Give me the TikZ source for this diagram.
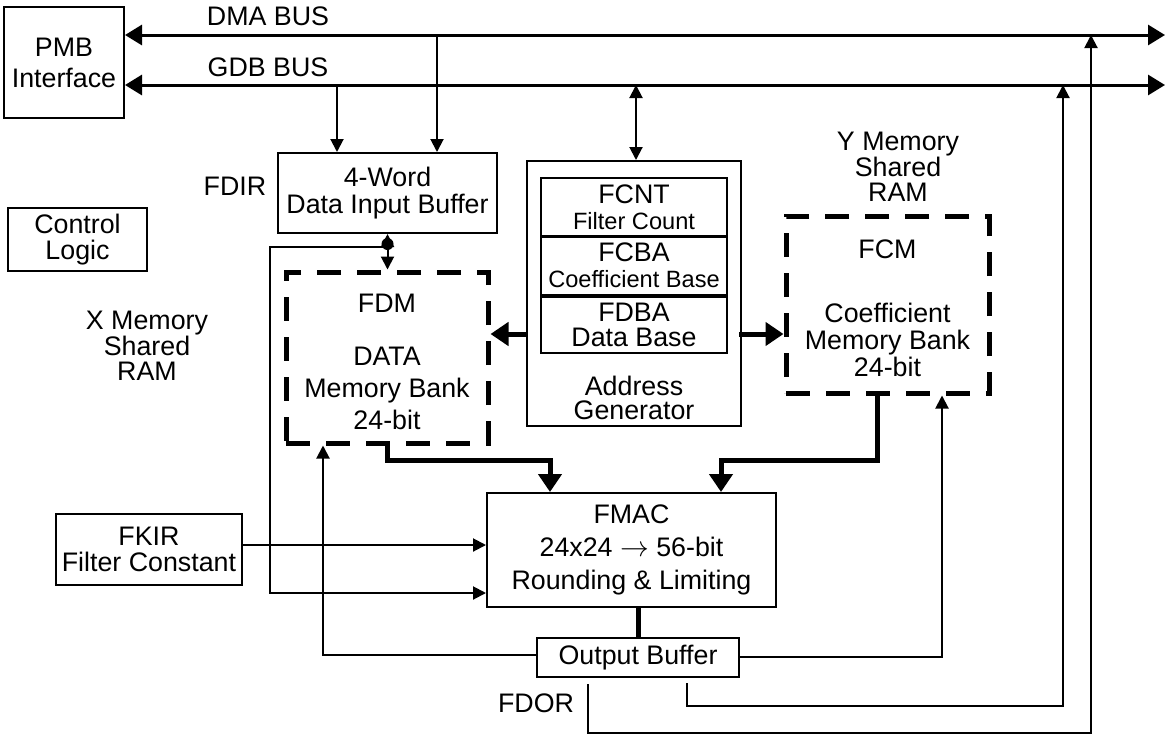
\documentclass[tikz,border=0pt]{standalone}
\usepackage{fontspec}
\setmainfont{Liberation Sans}
\usetikzlibrary{arrows.meta}

\begin{document}
\begin{tikzpicture}[x=0.5pt, y=-0.5pt, font=\fontsize{13.4}{12.8}\selectfont]
    \tikzstyle{box_style} = [draw=black, line width=1pt, align=center, inner sep=0pt]
    \tikzstyle{mem_style} = [draw=black, line width=2.5pt, dash pattern=on 12pt off 8pt, inner sep=0pt]
    \tikzstyle{text_style} = [align=center, inner sep=0pt]
    \tikzstyle{arrow_style1} = [-{Triangle[length=6.5pt,width=6.5pt]}, black, line width=1pt]
    \tikzstyle{arrow_style2} = [-{Triangle[length=9pt,width=11.5pt]}, black, line width=2.5pt]
    \tikzstyle{arrow_style3} = [{Triangle[length=6.5pt,width=6.5pt]}-{Triangle[length=6.5pt,width=6.5pt]}, black, line width=1pt]
    \tikzstyle{bus_style} = [{Triangle[length=8.5pt,width=10pt]}-{Triangle[length=8.5pt,width=10pt]}, black, line width=1.5pt]

    \useasboundingbox (0,0) rectangle (1167,734);

    % blocks
    \node[box_style, minimum width=60pt, minimum height=55.5pt, font=\fontsize{13.4}{15.5}\selectfont] (pmb) at (64,62.5) {PMB\\Interface};
    \node[box_style, minimum width=69.5pt, minimum height=31.5pt, font=\fontsize{13.4}{12.6}\selectfont] (ctrl) at (77.5,239.5) {Control\\Logic};
    \node[box_style, minimum width=109.5pt, minimum height=40pt, font=\fontsize{13.4}{13.5}\selectfont] (buf) at (387.5,193) {4-Word\\Data Input Buffer};
    \node[box_style, minimum width=107pt, minimum height=132.5pt] (ag) at (634,293.5) {};
    \node[box_style, minimum width=93pt, minimum height=29pt] (fcnt) at (634,207) {FCNT\\{\fontsize{11.8}{12}\selectfont Filter Count}};
    \node[box_style, minimum width=93pt, minimum height=29pt] (fcba) at (634,265.5) {FCBA\\{\fontsize{11.8}{12}\selectfont Coefficient Base}};
    \node[box_style, minimum width=93pt, minimum height=28pt] (fdba) at (634,325) {FDBA\\Data Base};
    \node[text_style, font=\fontsize{13.4}{12.4}\selectfont] (ag_lbl) at (634,398) {Address\\Generator};
    \node[mem_style, minimum width=101pt, minimum height=85.5pt] (fdm) at (387,357.5) {};
    \node[text_style] (fdm_lbl) at (387,303) {FDM};
    \node[text_style, font=\fontsize{13.4}{16}\selectfont] (fdm_txt) at (387,388) {DATA\\Memory Bank\\24-bit};
    \node[mem_style, minimum width=101.5pt, minimum height=88.5pt] (fcm) at (887.5,304.5) {};
    \node[text_style] (fcm_lbl) at (887.5,249.5) {FCM};
    \node[text_style, font=\fontsize{13.4}{13.5}\selectfont] (fcm_txt) at (887.5,340) {Coefficient\\Memory Bank\\24-bit};
    \node[box_style, minimum width=144.5pt, minimum height=57pt, font=\fontsize{13.4}{16.5}\selectfont] (fmac) at (631.5,550) {FMAC\\24x24 $\rightarrow$ 56-bit\\Rounding \& Limiting};
    \node[box_style, minimum width=93pt, minimum height=35.5pt] (fkir) at (149,549.5) {FKIR\\Filter Constant};
    \node[box_style, minimum width=101pt, minimum height=19.5pt] (obuf) at (638,657.5) {Output Buffer};

    % labels
    \node[text_style] (dma_lbl) at (268,16) {DMA BUS};
    \node[text_style] (gdb_lbl) at (268,67) {GDB BUS};
    \node[text_style] (fdir) at (235,186) {FDIR};
    \node[text_style] (fdor) at (536,703) {FDOR};
    \node[text_style] (xmem) at (147,346) {X Memory\\Shared\\RAM};
    \node[text_style] (ymem) at (898,167) {Y Memory\\Shared\\RAM};

    % buses
    \coordinate (dma_r) at (1165,35);
    \coordinate (gdb_r) at (1165,85);
    \draw[bus_style] (pmb.east |- dma_r) -- (dma_r);
    \draw[bus_style] (pmb.east |- gdb_r) -- (gdb_r);

    \coordinate (gdb_drop) at (337,85);
    \coordinate (dma_drop) at (437,35);
    \coordinate (gdb_ag) at (636,85);
    \draw[arrow_style1] (gdb_drop) -- (gdb_drop |- buf.north);
    \draw[arrow_style1] (dma_drop) -- (dma_drop |- buf.north);
    \draw[arrow_style3] (gdb_ag) -- (gdb_ag |- ag.north);

    % data input buffer to FDM and FMAC
    \draw[arrow_style3] (buf.south) -- (buf.south |- fdm.north);
    \node[circle, fill=black, inner sep=0pt, minimum size=6pt] (dot) at (387.5,244) {};
    \coordinate (xin) at (270,247);
    \coordinate (xin_b) at (270,593);
    \draw[arrow_style1] (dot.center |- xin) -- (xin) -- (xin_b) -- (xin_b -| fmac.west);
    \draw[arrow_style1] ([yshift=2.25pt]fkir.east) -- ([yshift=2.25pt]fkir.east -| fmac.west);

    % address generator
    \coordinate (ag_y) at (634,334);
    \draw[arrow_style2] (ag.west |- ag_y) -- (fdm.east |- ag_y);
    \draw[arrow_style2] ([xshift=-1.5pt]ag.east |- ag_y) -- (fcm.west |- ag_y);

    % memories to FMAC
    \coordinate (fmac_x) at (550,460);
    \coordinate (fmac_y) at (721,460);
    \coordinate (fcm_j) at (877,460);
    \draw[arrow_style2] (fdm.south) |- (fmac_x) -- (fmac_x |- fmac.north);
    \draw[arrow_style2] (fcm_j |- fcm.south) -- (fcm_j) -- (fmac_y) -- (fmac_y |- fmac.north);

    % output buffer
    \draw[line width=2.5pt] (obuf.north) -- (obuf.north |- fmac.south);
    \coordinate (xback) at (323,655);
    \coordinate (yback) at (942,657);
    \draw[arrow_style1] (obuf.west |- xback) -- (xback) -- (xback |- fdm.south);
    \draw[arrow_style1] (obuf.east |- yback) -- (yback) -- (yback |- fcm.south);

    \coordinate (fdor1) at (588,733);
    \coordinate (fdor2) at (687,706);
    \coordinate (dma_up) at (1091,35);
    \coordinate (gdb_up) at (1063,85);
    \draw[arrow_style1, shorten <=3pt] (fdor1 |- obuf.south) -- (fdor1) -| (dma_up);
    \draw[arrow_style1, shorten <=2.5pt] (fdor2 |- obuf.south) -- (fdor2) -| (gdb_up);
\end{tikzpicture}
\end{document}
